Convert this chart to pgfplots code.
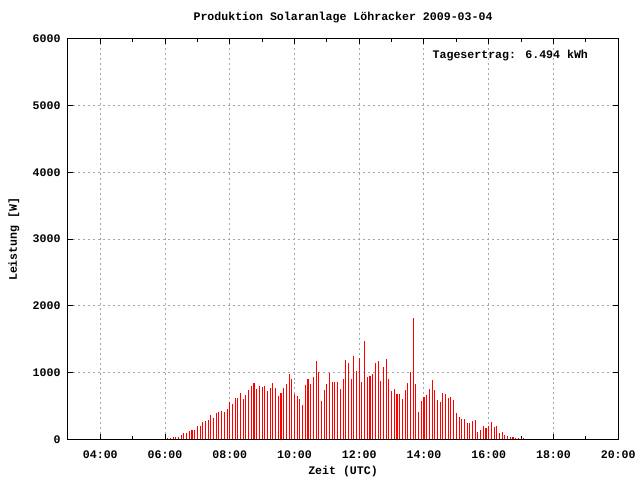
\documentclass[border=0pt]{standalone}
\usepackage{pgfplots}
\pgfplotsset{compat=1.18}
\usepackage{fontspec}
\setmainfont{Liberation Mono}
\newcommand\gf{\fontsize{8.7}{10}\selectfont\bfseries}
\begin{document}
\begin{tikzpicture}
\begin{axis}[
  at={(0,0)}, anchor=south west,
  scale only axis,
  width=413.25pt, height=300.75pt,
  xmin=180, xmax=1200, ymin=0, ymax=6000,
  xtick={240,360,480,600,720,840,960,1080,1200},
  xticklabels={04:00,06:00,08:00,10:00,12:00,14:00,16:00,18:00,20:00},
  minor xtick={300,420,540,660,780,900,1020,1140},
  ytick={0,1000,2000,3000,4000,5000,6000},
  yticklabels={0,1000,2000,3000,4000,5000,6000},
  tick align=inside,
  major tick length=4pt, minor tick length=2.5pt,
  tick style={black, line width=0.75pt},
  axis line style={black, line width=0.75pt},
  xmajorgrids, ymajorgrids,
  major grid style={color=gray!70, dash pattern=on 1.5pt off 2.25pt, line width=0.75pt},
  tick label style={font=\gf},
  /pgf/number format/assume math mode=true,
  xticklabel style={yshift=-5pt},
  yticklabel style={xshift=-2pt},
  clip=false,
]
\addplot[ycomb, red, line width=0.8pt] table {
x y
365 15
370 15
375 30
380 30
385 30
390 60
395 90
400 90
405 120
410 135
415 135
420 195
425 195
430 255
435 270
440 285
445 360
450 315
455 390
460 405
465 420
470 405
475 450
480 555
485 525
490 614
495 614
500 703
505 599
510 673
515 733
520 793
525 838
530 748
535 793
540 778
545 793
550 718
555 763
560 838
565 763
570 644
575 703
580 763
585 823
590 973
595 898
600 688
605 658
610 599
615 509
620 808
625 898
630 823
635 928
640 1182
645 1003
650 569
655 733
660 823
665 988
670 853
675 853
680 853
685 748
690 898
695 1197
700 1152
705 898
710 1257
715 1018
720 1227
725 853
730 1481
735 928
740 943
745 973
750 1152
755 1182
760 868
765 1092
770 1212
775 898
780 718
785 748
790 688
795 688
800 599
805 733
810 838
815 1003
820 1826
825 823
830 404
835 569
840 629
845 673
850 748
855 883
860 733
865 584
870 554
875 703
880 688
885 614
890 629
895 584
900 389
905 329
910 299
915 299
920 239
925 239
930 269
935 284
940 105
945 135
950 195
955 165
960 195
965 254
970 180
975 195
980 90
985 105
990 60
995 45
1000 30
1005 30
1010 15
1015 15
1020 15
1025 15
};
\node[font=\gf, anchor=west, inner sep=0pt] at (axis description cs:0.6624,0.9576) {Tagesertrag: 6.494 kWh};
\node[font=\gf] at ([yshift=15.75pt]axis description cs:0.5,1) {Produktion Solaranlage Löhracker 2009-03-04};
\node[font=\gf] at ([yshift=-24pt]axis description cs:0.5,0) {Zeit (UTC)};
\node[font=\gf, rotate=90] at ([xshift=-40.5pt]axis description cs:0,0.5) {Leistung [W]};
\end{axis}
\path[use as bounding box] (-51pt,-30pt) rectangle (429pt,330pt);
\end{tikzpicture}
\end{document}
